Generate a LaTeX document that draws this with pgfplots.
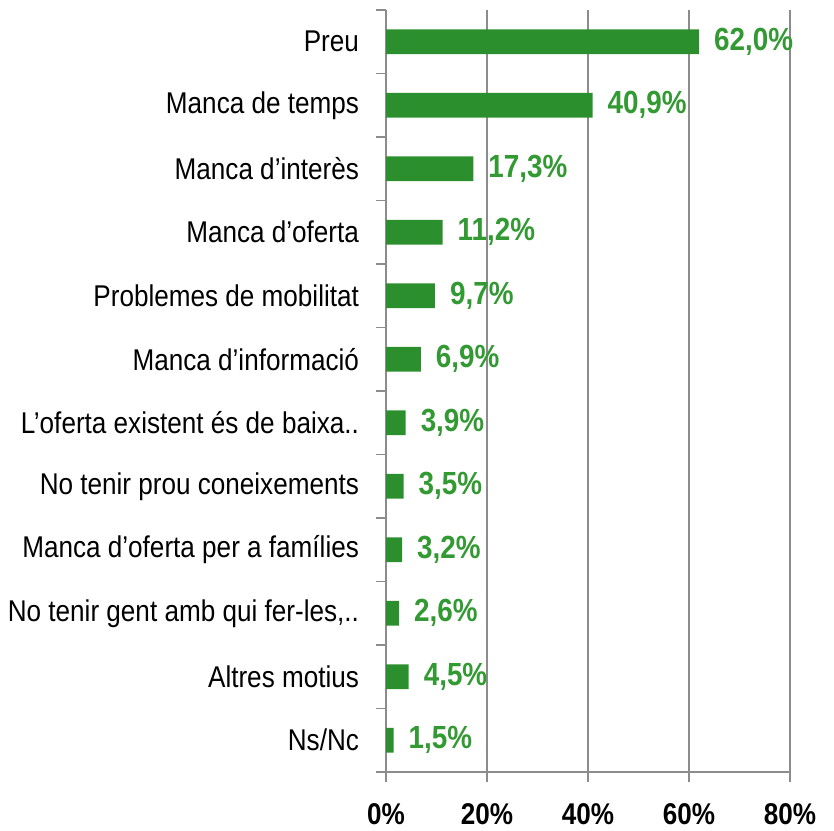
\documentclass[border=0pt]{standalone}
\usepackage{pgfplots}
\pgfplotsset{compat=1.18}
\usepackage{pgfplotstable}
\usepackage{fontspec}
\setmainfont{Liberation Sans}[FakeStretch=0.87]
\definecolor{bargreen}{HTML}{2C8F2E}
\definecolor{labgreen}{HTML}{339933}
\definecolor{axgray}{HTML}{8C8C8C}
\pgfplotstableread[col sep=comma]{
y,val,lab
0,62.0,{62,0\%}
1,40.9,{40,9\%}
2,17.3,{17,3\%}
3,11.2,{11,2\%}
4,9.7,{9,7\%}
5,6.9,{6,9\%}
6,3.9,{3,9\%}
7,3.5,{3,5\%}
8,3.2,{3,2\%}
9,2.6,{2,6\%}
10,4.5,{4,5\%}
11,1.5,{1,5\%}
}\datatable
\begin{document}
\begin{tikzpicture}
\begin{axis}[
  scale only axis,
  width=202pt, height=381pt,
  xbar, bar width=0.39,
  xmin=0, xmax=80,
  ymin=-0.5, ymax=11.5,
  y dir=reverse,
  axis x line*=bottom, axis y line*=left,
  axis line style={axgray, line width=0.8pt},
  xtick={0,20,40,60,80},
  xticklabel={\pgfmathprintnumber{\tick}\%},
  /pgf/number format/assume math mode=true,
  xticklabel style={font=\fontsize{15}{17}\selectfont\bfseries, yshift=-7pt},
  xmajorgrids, grid style={axgray, line width=0.8pt},
  major x tick style={axgray, line width=0.8pt},
  tick align=outside,
  major tick length=5pt,
  ytick={0,...,11},
  yticklabels={Preu, Manca de temps, Manca d’interès, Manca d’oferta, Problemes de mobilitat, Manca d’informació, L’oferta existent és de baixa.., No tenir prou coneixements, Manca d’oferta per a famílies, {No tenir gent amb qui fer-les,..}, Altres motius, Ns/Nc},
  yticklabel style={font=\fontsize{15}{17}\selectfont, xshift=-5pt},
  major y tick style={draw=none},
  minor ytick={-0.5,0.5,...,11.5},
  minor y tick style={axgray, line width=0.8pt},
  minor tick length=5pt,
  nodes near coords,
  point meta=explicit symbolic,
  every node near coord/.append style={font=\fontsize{16}{18}\selectfont\bfseries, text=labgreen, anchor=west, xshift=4pt, yshift=0pt},
  clip=false,
]
\addplot[fill=bargreen, draw=none] table[x=val, y=y, meta=lab] {\datatable};
\end{axis}
\path (current axis.south west) ++(-193pt,-29pt) coordinate (bbsw);
\path (current axis.north east) ++(22pt,5pt) coordinate (bbne);
\path (bbsw) rectangle (bbne);
\end{tikzpicture}
\end{document}
